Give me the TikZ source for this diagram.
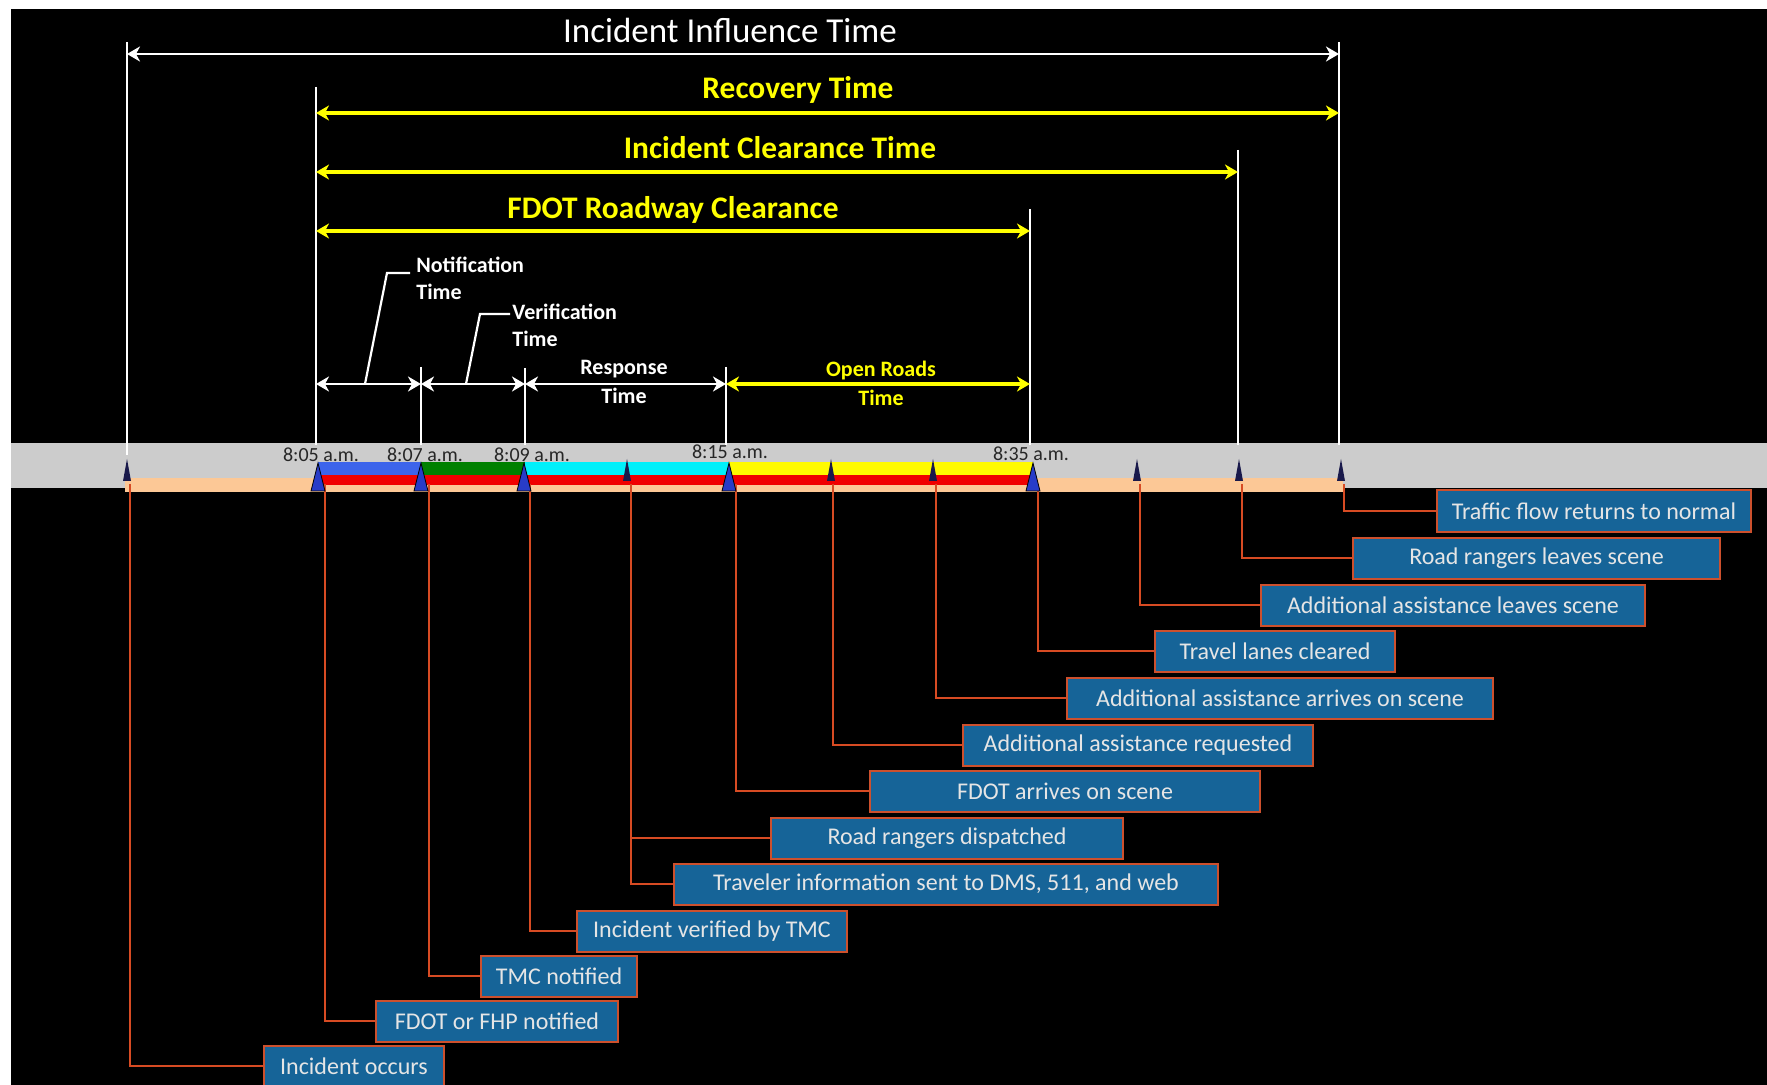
\documentclass[tikz,border=0pt]{standalone}
\usepackage{fontspec}
\setmainfont{Carlito}
\usepackage{xcolor}
\usepackage{tikz}
\usetikzlibrary{arrows.meta,positioning}

\definecolor{evblue}{RGB}{22,100,152}
\definecolor{evedge}{RGB}{205,80,45}
\definecolor{leadred}{RGB}{215,75,35}
\definecolor{bandgray}{RGB}{204,204,204}
\definecolor{peach}{RGB}{252,200,150}
\definecolor{roadred}{RGB}{240,0,0}
\definecolor{notblue}{RGB}{60,100,235}
\definecolor{vergreen}{RGB}{0,128,0}
\definecolor{rescyan}{RGB}{0,240,250}
\definecolor{openyel}{RGB}{255,250,0}
\definecolor{txtyel}{RGB}{255,255,0}
\definecolor{bigtri}{RGB}{40,60,200}
\definecolor{smalltri}{RGB}{25,25,75}

\begin{document}
\begin{tikzpicture}[x=0.5pt, y=-0.5pt, every node/.style={align=center, inner sep=0pt}]
\tikzset{
  evbox/.style={draw=evedge, fill=evblue, line width=1pt, minimum height=20.5pt, anchor=west, text=white!90!black, font=\fontsize{12}{14}\selectfont},
  leader/.style={leadred, line width=0.8pt},
  markline/.style={white, line width=1.1pt},
  dimwhite/.style={white, line width=1.3pt, {Stealth[length=6.5pt,width=7.5pt,inset=2pt]}-{Stealth[length=6.5pt,width=7.5pt,inset=2pt]}},
  dimyellow/.style={dimwhite, txtyel, line width=1.7pt},
  bigtitle/.style={text=txtyel, font=\bfseries\fontsize{15.7}{18}\selectfont},
  smalllabel/.style={text=white, font=\bfseries\fontsize{11}{13.5}\selectfont},
  clock/.style={text=black!85, font=\fontsize{10}{12}\selectfont},
  bigtick/.style={fill=bigtri, draw=black, line width=0.4pt},
  smalltick/.style={fill=smalltri}
}
% background and frame
\fill[white] (0,0) rectangle (1767,1085);
\fill[black] (11,9) rectangle (1767,1085);
\useasboundingbox (0,0) rectangle (1767,1085);

% timeline band
\fill[bandgray] (11,443) rectangle (1767,488);
\fill[peach] (125,478) rectangle (1343,492);
\fill[roadred] (318,475) rectangle (1033,485);
\fill[notblue] (318,462) rectangle (421,475);
\fill[vergreen] (421,462) rectangle (525,475);
\fill[rescyan] (525,462) rectangle (729,475);
\fill[openyel] (729,462) rectangle (1033,475);

% marker lines
\draw[markline] (127,42) -- (127,455);
\draw[markline] (316,87) -- (316,445);
\draw[markline] (421,367) -- (421,445);
\draw[markline] (525,368) -- (525,445);
\draw[markline] (726,367) -- (726,445);
\draw[markline] (1030,209) -- (1030,445);
\draw[markline] (1238,150) -- (1238,445);
\draw[markline] (1339,42) -- (1339,445);

% spans
\coordinate (iitL) at (127,54);  \coordinate (iitR) at (1339,54);
\coordinate (recL) at (316,113); \coordinate (recR) at (1339,113);
\coordinate (ictL) at (316,172); \coordinate (ictR) at (1238,172);
\coordinate (frcL) at (316,231); \coordinate (frcR) at (1030,231);
\coordinate (notL) at (316,384); \coordinate (notR) at (421,384);
\coordinate (verR) at (525,384); \coordinate (resR) at (726,384);
\coordinate (opnR) at (1030,384);
\draw[dimwhite] (iitL) -- (iitR);
\draw[dimyellow] (recL) -- (recR);
\draw[dimyellow] (ictL) -- (ictR);
\draw[dimyellow] (frcL) -- (frcR);
\draw[dimwhite] (notL) -- (notR);
\draw[dimwhite] (notR) -- (verR);
\draw[dimwhite] (verR) -- (resR);
\draw[dimyellow] (resR) -- (opnR);

\node[text=white, font=\fontsize{17.5}{20}\selectfont] (iit) at (730,30) {Incident Influence Time};
\node[bigtitle] (rec) at (798,90) {Recovery Time};
\node[bigtitle] (ict) at (780,148) {Incident Clearance Time};
\node[bigtitle] (frc) at (673,210) {FDOT Roadway Clearance};

\node[smalllabel, align=left, anchor=north west] (notif) at (416,257) {Notification\\Time};
\node[smalllabel, align=left, anchor=north west] (verif) at (512,304) {Verification\\Time};
\node[smalllabel, font=\bfseries\fontsize{11}{14.5}\selectfont] (resp) at (624,382) {Response\\Time};
\node[smalllabel, font=\bfseries\fontsize{11}{14.5}\selectfont, text=txtyel] (open) at (881,383) {Open Roads\\Time};
\coordinate (nfoot) at (365,384); \coordinate (nknee) at (387,273);
\draw[markline] (nfoot) -- (nknee) -- ([xshift=-3pt]nknee -| notif.west);
\coordinate (vfoot) at (466,384); \coordinate (vknee) at (480,314);
\draw[markline] (vfoot) -- (vknee) -- ([xshift=-1pt]vknee -| verif.west);

% clock times
\node[clock] (c805) at (321,455) {8:05 a.m.};
\node[clock] (c807) at (425,455) {8:07 a.m.};
\node[clock] (c809) at (532,455) {8:09 a.m.};
\node[clock] (c815) at (730,452) {8:15 a.m.};
\node[clock] (c835) at (1031,454) {8:35 a.m.};

% events
\node[evbox, minimum width=157pt] (normal) at (1436,511) {Traffic flow returns to normal};
\node[evbox, minimum width=183.5pt] (rrleave) at (1352,558) {Road rangers leaves scene};
\node[evbox, minimum width=192pt] (aaleave) at (1260,605) {Additional assistance leaves scene};
\node[evbox, minimum width=120pt] (lanes) at (1154,651) {Travel lanes cleared};
\node[evbox, minimum width=213pt] (aaarrive) at (1066,698) {Additional assistance arrives on scene};
\node[evbox, minimum width=175pt] (aareq) at (962,745) {Additional assistance requested};
\node[evbox, minimum width=195pt] (fdotarr) at (869,791) {FDOT arrives on scene};
\node[evbox, minimum width=176pt] (rrdisp) at (770,838) {Road rangers dispatched};
\node[evbox, minimum width=272pt] (travinfo) at (673,884) {Traveler information sent to DMS, 511, and web};
\node[evbox, minimum width=135pt] (verified) at (576,931) {Incident verified by TMC};
\node[evbox, minimum width=78pt] (tmcnot) at (480,976) {TMC notified};
\node[evbox, minimum width=121pt] (fhpnot) at (375,1021) {FDOT or FHP notified};
\node[evbox, minimum width=90pt] (occurs) at (263,1066) {Incident occurs};

\coordinate (k0) at (130,484);  \coordinate (k1) at (325,484);
\coordinate (k2) at (429,484);  \coordinate (k3) at (530,484);
\coordinate (k4) at (631,484);  \coordinate (k5) at (736,484);
\coordinate (k6) at (833,484);  \coordinate (k7) at (936,484);
\coordinate (k8) at (1038,484); \coordinate (k9) at (1140,484);
\coordinate (k10) at (1242,484); \coordinate (k11) at (1344,484);
\draw[leader] (k0) |- (occurs.west);
\draw[leader] (k1) |- (fhpnot.west);
\draw[leader] (k2) |- (tmcnot.west);
\draw[leader] (k3) |- (verified.west);
\draw[leader] (k4) |- (travinfo.west);
\draw[leader] (k4 |- rrdisp.west) -- (rrdisp.west);
\draw[leader] (k5) |- (fdotarr.west);
\draw[leader] (k6) |- (aareq.west);
\draw[leader] (k7) |- (aaarrive.west);
\draw[leader] (k8) |- (lanes.west);
\draw[leader] (k9) |- (aaleave.west);
\draw[leader] (k10) |- (rrleave.west);
\draw[leader] (k11) |- (normal.west);

% tick marks
\fill[smalltick] (123,481) -- (127,459) -- (131,481) -- cycle;
\filldraw[bigtick] (311,491) -- (318,463) -- (325,491) -- cycle;
\filldraw[bigtick] (414,491) -- (421,463) -- (428,491) -- cycle;
\filldraw[bigtick] (517,491) -- (524,463) -- (531,491) -- cycle;
\fill[smalltick] (623,481) -- (627,459) -- (631,481) -- cycle;
\filldraw[bigtick] (722,491) -- (729,463) -- (736,491) -- cycle;
\fill[smalltick] (827,481) -- (831,459) -- (835,481) -- cycle;
\fill[smalltick] (929,481) -- (933,459) -- (937,481) -- cycle;
\filldraw[bigtick] (1026,491) -- (1033,463) -- (1040,491) -- cycle;
\fill[smalltick] (1133,481) -- (1137,459) -- (1141,481) -- cycle;
\fill[smalltick] (1235,481) -- (1239,459) -- (1243,481) -- cycle;
\fill[smalltick] (1337,481) -- (1341,459) -- (1345,481) -- cycle;
\end{tikzpicture}
\end{document}
